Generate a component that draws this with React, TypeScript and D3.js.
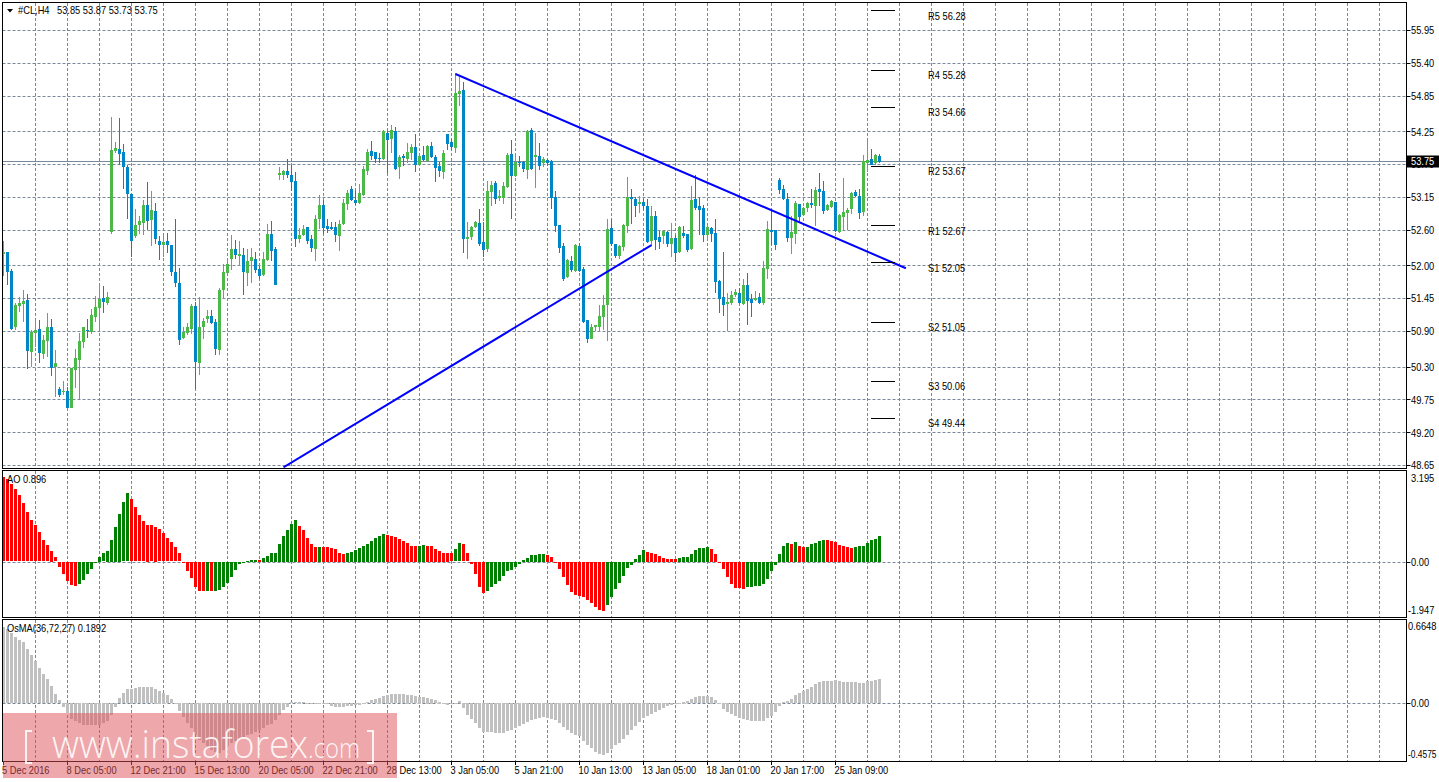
import React, { useEffect, useRef } from "react";
import * as d3 from "d3";

const WIDTH = 1439;
const HEIGHT = 782;
const FONT = "'Liberation Sans', sans-serif";

// H4 candles
const opens = [
  52.20,52.23,51.92,50.97,51.33,51.36,51.43,50.56,50.87,50.94,
  50.52,50.74,50.98,50.30,49.93,49.88,49.90,49.62,50.25,50.42,
  50.72,50.93,50.89,51.14,51.29,51.46,51.38,52.57,53.93,53.96,
  53.91,53.66,53.21,52.50,52.69,52.72,53.02,52.77,52.92,52.42,
  52.35,52.42,52.35,51.90,51.71,50.79,50.87,50.94,51.33,50.37,
  50.97,51.11,51.16,51.06,50.59,51.60,51.88,52.12,52.28,52.17,
  52.18,51.88,52.08,52.12,51.95,51.85,52.10,52.54,52.28,53.53,
  53.53,53.59,53.53,53.43,52.45,52.52,52.65,52.45,52.28,52.79,
  53.02,52.67,52.65,52.65,52.50,52.70,53.04,53.29,53.11,53.06,
  53.19,53.59,53.93,53.91,53.81,53.79,54.23,54.13,54.26,53.66,
  53.84,53.79,53.89,53.99,53.69,53.86,53.76,54.01,53.83,53.68,
  53.58,54.21,54.08,53.98,54.88,54.95,52.45,52.48,52.65,52.72,
  52.40,52.28,53.24,53.39,53.14,53.14,53.32,53.88,53.51,53.74,
  53.74,53.61,54.28,53.83,53.84,53.73,53.78,53.76,53.16,52.69,
  52.33,51.81,52.08,51.92,52.33,51.95,51.09,50.77,50.98,50.98,
  51.14,51.34,52.64,52.37,52.17,52.32,52.67,53.16,53.12,53.04,
  53.07,53.01,52.42,52.84,52.48,52.50,52.57,52.37,52.47,52.23,
  52.55,52.54,52.28,53.12,53.01,52.97,52.52,52.64,52.55,51.75,
  51.48,51.36,51.38,51.51,51.55,51.36,51.68,51.44,51.43,51.48,
  51.38,51.95,52.60,52.60,53.44,53.29,53.12,52.47,52.54,53.04,
  52.85,52.97,53.06,53.01,53.29,53.26,52.94,52.99,53.07,52.57,
  52.82,52.89,52.95,53.24,53.17,52.90,53.73,53.79,53.73,53.85,
];
const highs = [
  52.42,52.23,51.95,51.38,51.48,51.60,51.53,50.93,51.09,51.09,
  50.84,51.21,51.11,50.59,49.97,50.07,49.97,50.29,50.61,50.87,
  50.98,51.11,51.28,51.50,51.68,51.66,51.56,54.50,54.08,54.48,
  54.05,53.69,53.21,52.95,52.84,53.11,53.41,53.26,53.06,52.50,
  52.50,52.55,52.35,52.79,51.97,50.98,51.04,51.36,51.39,51.48,
  51.13,51.26,51.26,51.11,51.63,52.03,52.10,52.52,52.44,52.42,
  52.30,52.28,52.30,52.23,52.00,52.23,52.70,52.75,52.32,53.66,
  53.61,53.79,53.69,53.58,52.64,52.69,52.65,52.52,52.85,53.19,
  53.11,52.79,52.74,52.74,52.77,53.12,53.27,53.34,53.26,53.37,
  53.68,53.96,54.10,53.91,53.89,54.28,54.26,54.37,54.33,53.86,
  53.88,54.06,54.05,54.21,53.86,54.01,54.03,54.08,53.86,53.74,
  53.95,54.21,54.13,55.24,55.17,55.09,52.74,52.67,52.75,52.95,
  52.74,53.43,53.43,53.43,53.27,53.41,53.89,54.11,53.89,53.84,
  53.76,54.28,54.31,54.23,54.06,53.83,53.79,53.78,53.26,52.69,
  52.38,52.12,52.17,52.37,52.38,51.98,51.09,51.03,51.01,51.34,
  51.51,52.79,52.79,52.37,52.35,52.70,53.49,53.29,53.16,53.17,
  53.12,53.12,53.01,52.92,52.59,52.60,52.59,52.72,52.52,52.67,
  52.67,52.54,53.34,53.53,53.16,53.02,52.67,52.65,52.79,51.76,
  52.23,51.55,51.58,51.61,51.63,51.78,51.88,51.53,51.58,51.55,
  52.08,52.75,52.95,52.60,53.48,53.36,53.22,52.84,53.09,53.04,
  52.99,53.07,53.29,53.32,53.56,53.43,53.04,53.11,53.07,52.87,
  53.48,52.97,53.24,53.27,53.29,53.86,54.11,53.96,53.88,53.87,
];
const lows = [
  51.83,51.68,50.93,50.93,51.23,51.06,50.27,50.30,50.64,50.37,
  50.44,50.47,50.15,49.80,49.80,49.83,49.62,49.62,49.95,49.77,
  50.62,50.79,50.86,51.06,50.94,51.21,51.34,52.54,53.89,53.69,
  53.29,52.79,52.15,52.47,52.54,52.52,52.60,52.33,52.37,52.10,
  52.15,52.22,51.83,51.65,50.67,50.77,50.84,50.86,49.93,50.17,
  50.77,51.04,51.03,50.50,50.50,51.44,51.86,51.93,52.12,52.00,
  51.51,51.66,51.71,51.88,51.78,51.83,52.08,52.08,51.68,53.44,
  53.44,53.48,53.26,52.32,52.38,52.50,52.37,52.23,52.08,52.62,
  52.54,52.55,52.60,52.40,52.25,52.69,52.94,53.09,53.02,53.04,
  53.17,53.53,53.78,53.73,53.73,53.78,53.56,53.89,53.61,53.46,
  53.68,53.73,53.78,53.58,53.68,53.76,53.74,53.81,53.41,53.49,
  53.46,53.95,53.95,53.89,54.68,52.22,52.12,52.43,52.64,52.33,
  52.15,52.23,53.01,53.04,53.09,53.04,53.31,52.79,53.49,53.66,
  53.58,53.46,53.61,53.31,53.61,53.66,53.68,52.95,52.57,52.22,
  51.75,51.80,51.90,51.90,51.90,51.04,50.71,50.77,50.91,50.89,
  50.93,50.74,52.33,52.13,52.12,52.25,52.55,52.70,52.82,52.89,
  52.94,52.38,52.33,52.27,52.28,52.37,52.32,52.15,52.07,52.22,
  52.47,52.23,52.27,52.94,52.52,52.40,52.43,52.40,51.55,51.21,
  51.16,50.91,51.34,51.48,51.36,51.34,51.01,51.14,51.41,51.36,
  51.34,51.78,52.35,52.27,53.21,53.11,52.40,52.20,52.37,52.72,
  52.84,52.90,52.97,52.67,53.01,52.87,52.92,52.97,52.57,52.55,
  52.59,52.60,52.87,53.16,52.79,52.84,53.58,53.69,53.69,53.73,
];
const closes = [
  52.23,51.90,50.94,51.34,51.38,51.41,50.57,50.89,50.93,50.54,
  50.76,50.98,50.29,50.37,49.83,49.90,49.62,50.29,50.45,50.74,
  50.97,50.91,51.18,51.31,51.44,51.39,51.48,53.95,53.98,53.88,
  53.66,53.21,52.42,52.69,52.75,53.02,52.75,52.94,52.45,52.35,
  52.40,52.35,51.90,51.71,50.76,50.89,50.97,51.33,50.39,50.98,
  51.08,51.16,51.04,50.61,51.60,51.90,52.03,52.28,52.18,52.20,
  51.90,52.08,52.15,51.93,51.83,52.12,52.54,52.25,51.68,53.56,
  53.59,53.53,53.41,52.45,52.52,52.62,52.42,52.30,52.79,53.02,
  52.64,52.62,52.62,52.52,52.70,53.06,53.22,53.11,53.06,53.22,
  53.63,53.91,53.84,53.79,53.79,54.26,54.11,54.28,53.63,53.83,
  53.81,53.91,53.99,53.69,53.84,53.78,54.01,53.83,53.64,53.59,
  53.89,54.05,53.99,54.90,54.94,52.45,52.48,52.65,52.74,52.37,
  52.27,53.26,53.36,53.12,53.17,53.34,53.86,53.51,53.74,53.73,
  53.63,54.26,53.63,53.86,53.68,53.79,53.73,53.14,52.67,52.30,
  51.78,52.10,51.93,52.35,51.92,51.06,50.77,50.98,51.01,51.16,
  51.34,52.62,52.37,52.17,52.33,52.69,53.16,53.12,53.01,53.07,
  53.01,52.40,52.84,52.43,52.40,52.59,52.37,52.47,52.22,52.65,
  52.50,52.27,53.11,52.97,52.94,52.52,52.65,52.54,51.73,51.44,
  51.34,51.39,51.51,51.56,51.38,51.68,51.41,51.38,51.46,51.38,
  51.97,52.62,52.57,52.35,53.27,53.12,52.47,52.57,53.06,52.82,
  52.97,53.06,53.02,53.27,53.24,52.92,53.02,53.09,52.59,52.85,
  52.90,52.94,53.22,53.17,52.89,53.76,53.78,53.69,53.86,53.75,
];

const aoValues = [
  2.92,2.85,2.68,2.51,2.30,2.02,1.71,1.43,1.26,1.02,
  0.74,0.57,0.39,0.15,-0.17,-0.40,-0.65,-0.79,-0.82,-0.75,
  -0.61,-0.40,-0.23,-0.03,0.18,0.29,0.39,0.77,1.22,1.67,
  2.06,2.37,2.16,1.88,1.61,1.40,1.29,1.26,1.22,1.12,
  0.98,0.81,0.67,0.50,0.29,-0.03,-0.30,-0.54,-0.85,-0.99,
  -0.99,-0.99,-0.99,-0.99,-0.96,-0.85,-0.72,-0.51,-0.27,-0.07,
  -0.03,0.03,0.07,0.07,0.07,0.14,0.21,0.31,0.31,0.62,
  0.90,1.11,1.32,1.46,1.25,1.11,0.83,0.62,0.52,0.52,
  0.52,0.52,0.49,0.45,0.31,0.28,0.31,0.35,0.42,0.49,
  0.55,0.62,0.73,0.83,0.90,0.97,0.94,0.90,0.87,0.80,
  0.73,0.66,0.55,0.55,0.55,0.59,0.55,0.55,0.45,0.38,
  0.31,0.31,0.29,0.43,0.64,0.60,0.29,-0.07,-0.40,-0.85,
  -1.06,-0.99,-0.85,-0.75,-0.65,-0.47,-0.30,-0.27,-0.17,-0.07,
  0.07,0.14,0.24,0.24,0.28,0.28,0.24,0.17,-0.03,-0.23,
  -0.51,-0.79,-1.03,-1.13,-1.17,-1.20,-1.30,-1.41,-1.55,-1.65,
  -1.69,-1.48,-1.20,-0.92,-0.72,-0.47,-0.20,-0.09,0.10,0.24,
  0.42,0.35,0.31,0.28,0.21,0.14,0.10,0.10,0.10,0.14,
  0.17,0.17,0.28,0.42,0.49,0.49,0.52,0.45,0.28,-0.03,
  -0.23,-0.51,-0.75,-0.89,-0.89,-0.92,-0.85,-0.85,-0.82,-0.82,
  -0.75,-0.58,-0.30,-0.09,0.28,0.55,0.66,0.62,0.69,0.55,
  0.52,0.52,0.62,0.66,0.73,0.76,0.76,0.73,0.69,0.59,
  0.55,0.52,0.49,0.52,0.55,0.55,0.66,0.76,0.80,0.896,
];
// r = falling bar, g = rising bar
const aoColors =
  "rrrrrrrrrrrrrrrrrrr" + "ggggggggggggg" + "rrrrrrrrrrrrrrrrrrr" + "g" + "r" + "ggggggggggg" + "r" +
  "ggggggggg" + "rrrrr" + "g" + "rrrrrr" + "gggggggggg" + "rrrrrrrr" + "gg" + "rrrrrr" +
  "r" + "gg" + "rrrrrr" + "ggggggggggggggg" + "rrrrrrrrrrrrrrr" + "gggggggggg" + "rrrrrrrr" + "gggggggg" +
  "rrrrrrrrr" + "ggggggggggg" + "r" + "g" + "rr" + "ggggg" + "rrrrrrr" + "ggggggg";

const osmaValues = [
  0.601,0.585,0.554,0.522,0.499,0.483,0.428,0.381,0.333,0.278,
  0.231,0.192,0.137,0.074,0.026,-0.034,-0.079,-0.123,-0.144,-0.158,
  -0.171,-0.176,-0.176,-0.176,-0.171,-0.160,-0.144,-0.092,-0.032,0.042,
  0.081,0.110,0.116,0.121,0.126,0.129,0.129,0.129,0.116,0.100,
  0.084,0.063,0.034,0.005,-0.060,-0.113,-0.158,-0.197,-0.249,-0.289,
  -0.315,-0.341,-0.368,-0.386,-0.394,-0.373,-0.341,-0.315,-0.302,-0.281,
  -0.268,-0.255,-0.242,-0.228,-0.215,-0.197,-0.176,-0.163,-0.131,-0.092,
  -0.055,-0.032,0.008,0.011,0.013,0.011,0.003,-0.005,-0.003,-0.003,
  -0.005,-0.011,-0.021,-0.032,-0.034,-0.032,-0.026,-0.024,-0.018,-0.013,
  0,0.011,0.024,0.034,0.045,0.058,0.068,0.074,0.074,0.074,
  0.071,0.068,0.066,0.058,0.053,0.047,0.045,0.037,0.024,0.013,
  -0.008,-0.016,-0.008,-0.003,0.016,-0.042,-0.092,-0.123,-0.155,-0.194,
  -0.226,-0.226,-0.226,-0.234,-0.234,-0.234,-0.218,-0.210,-0.197,-0.179,
  -0.163,-0.147,-0.131,-0.123,-0.116,-0.108,-0.116,-0.123,-0.131,-0.155,
  -0.186,-0.210,-0.236,-0.249,-0.257,-0.302,-0.333,-0.357,-0.389,-0.399,
  -0.407,-0.391,-0.360,-0.328,-0.312,-0.284,-0.249,-0.210,-0.179,-0.147,
  -0.116,-0.100,-0.084,-0.068,-0.053,-0.037,-0.021,-0.016,-0.008,0.005,
  0.013,0.016,0.032,0.047,0.055,0.058,0.058,0.053,0.026,-0.008,
  -0.047,-0.071,-0.084,-0.100,-0.116,-0.123,-0.131,-0.139,-0.144,-0.144,
  -0.139,-0.116,-0.100,-0.068,-0.026,0.008,0.018,0.032,0.063,0.079,
  0.100,0.116,0.126,0.152,0.165,0.173,0.179,0.179,0.184,0.179,
  0.168,0.168,0.168,0.168,0.158,0.163,0.173,0.176,0.184,0.1892,
];

const priceTicks = [55.95, 55.4, 54.85, 54.25, 53.7, 53.15, 52.6, 52.0, 51.45, 50.9, 50.3, 49.75, 49.2, 48.65];
const lastPrice = 53.75;

const pivotNames = ["R5", "R4", "R3", "R2", "R1", "S1", "S2", "S3", "S4"];
const pivotLevels = [56.28, 55.28, 54.66, 53.67, 52.67, 52.05, 51.05, 50.06, 49.44];

const timeLabels = [
  "5 Dec 2016", "8 Dec 05:00", "12 Dec 21:00", "15 Dec 13:00", "20 Dec 05:00", "22 Dec 21:00", "28 Dec 13:00",
  "3 Jan 05:00", "5 Jan 21:00", "10 Jan 13:00", "13 Jan 05:00", "18 Jan 01:00", "20 Jan 17:00", "25 Jan 09:00",
];

// trend lines as [bar index, price]
const fallingTrend: [number, number][] = [[113, 55.22], [225.6, 51.96]];
const risingTrend: [number, number][] = [[70, 48.62], [162, 52.35]];

const App: React.FC = () => {
  const svgRef = useRef<SVGSVGElement>(null);

  useEffect(() => {
    const svg = d3.select(svgRef.current);
    svg.selectAll("*").remove();

    const left = 2.5;
    const right = 1406.5;
    const x = d3.scaleLinear().domain([0, 219]).range([3.5, 879.5]);
    const yPrice = d3.scaleLinear().domain([55.95, 48.65]).range([30.5, 465.5]);
    const yAo = d3.scaleLinear().domain([3.195, -1.947]).range([469.5, 618]);
    const yOsma = d3.scaleLinear().domain([0.6648, -0.4575]).range([619, 761.5]);
    const px = (v: number) => Math.round(v - 0.5) + 0.5;

    svg.append("rect").attr("width", WIDTH).attr("height", HEIGHT).attr("fill", "#fff");

    const defs = svg.append("defs");
    const clip = (id: string, y0: number, y1: number) =>
      defs.append("clipPath").attr("id", id).append("rect")
        .attr("x", 3).attr("y", y0).attr("width", right - 3).attr("height", y1 - y0);
    clip("clip-price", 3, 468);
    clip("clip-ao", 471, 617);
    clip("clip-osma", 620, 761);

    const GRID = "#778899";
    const vLines = d3.range(8, 345, 8);

    // Grid
    const grid = svg.append("g").attr("stroke", GRID).attr("stroke-dasharray", "3,2").attr("fill", "none");
    const vGrid = (y0: number, y1: number) =>
      grid.append("g").selectAll("line").data(vLines).join("line")
        .attr("x1", (d) => x(d)).attr("x2", (d) => x(d)).attr("y1", y0).attr("y2", y1);
    vGrid(3, 468);
    vGrid(471, 617);
    vGrid(620, 761);
    grid.append("g").selectAll("line").data(priceTicks).join("line")
      .attr("x1", left).attr("x2", right)
      .attr("y1", (d) => px(yPrice(d))).attr("y2", (d) => px(yPrice(d)));
    grid.append("line").attr("x1", left).attr("x2", right).attr("y1", 562.5).attr("y2", 562.5);
    grid.append("line").attr("x1", left).attr("x2", right).attr("y1", 703.5).attr("y2", 703.5);

    // Current price line
    svg.append("line").attr("x1", left).attr("x2", right)
      .attr("y1", px(yPrice(lastPrice))).attr("y2", px(yPrice(lastPrice)))
      .attr("stroke", GRID).attr("stroke-width", 1);

    // Candles
    const candles = svg.append("g").attr("clip-path", "url(#clip-price)");
    const bars = d3.range(opens.length);
    const up = (i: number) => closes[i] >= opens[i];
    const candleColor = (i: number) => (up(i) ? "#4cb848" : "#0085c6");
    candles.append("g").selectAll("rect").data(bars).join("rect")
      .attr("x", (i) => x(i) - 0.5).attr("width", 1)
      .attr("y", (i) => Math.round(yPrice(highs[i])))
      .attr("height", (i) => Math.max(1, Math.round(yPrice(lows[i])) - Math.round(yPrice(highs[i]))))
      .attr("fill", candleColor);
    candles.append("g").selectAll("rect").data(bars).join("rect")
      .attr("x", (i) => x(i) - 1.5).attr("width", 3)
      .attr("y", (i) => Math.round(yPrice(Math.max(opens[i], closes[i]))))
      .attr("height", (i) =>
        Math.max(1, Math.round(yPrice(Math.min(opens[i], closes[i]))) - Math.round(yPrice(Math.max(opens[i], closes[i])))))
      .attr("fill", candleColor);

    // Pivot levels
    svg.append("g").selectAll("line").data(pivotLevels).join("line")
      .attr("x1", 871).attr("x2", 895)
      .attr("y1", (d) => px(yPrice(d))).attr("y2", (d) => px(yPrice(d)))
      .attr("stroke", "#000");

    // Trend lines
    const trend = d3.line<[number, number]>().x((d) => x(d[0])).y((d) => yPrice(d[1]));
    candles.selectAll("path.trend").data([fallingTrend, risingTrend]).join("path")
      .attr("class", "trend").attr("d", (d) => trend(d))
      .attr("fill", "none").attr("stroke", "#0000ff").attr("stroke-width", 2);

    // AO
    svg.append("g").attr("clip-path", "url(#clip-ao)").selectAll("rect").data(aoValues).join("rect")
      .attr("x", (_, i) => x(i) - 1.5).attr("width", 3)
      .attr("y", (d) => Math.round(Math.min(yAo(d), yAo(0))))
      .attr("height", (d) => Math.max(1, Math.round(Math.abs(yAo(d) - yAo(0)))))
      .attr("fill", (_, i) => (aoColors[i] === "g" ? "#008000" : "#ff0000"));

    // OsMA
    svg.append("g").attr("clip-path", "url(#clip-osma)").selectAll("rect").data(osmaValues).join("rect")
      .attr("x", (_, i) => x(i) - 1.5).attr("width", 3)
      .attr("y", (d) => Math.round(Math.min(yOsma(d), yOsma(0))))
      .attr("height", (d) => Math.max(1, Math.round(Math.abs(yOsma(d) - yOsma(0)))))
      .attr("fill", "#c0c0c0");

    // Frames
    const frames = svg.append("g").attr("stroke", "#000").attr("fill", "none");
    [[2.5, 468.5], [470.5, 617.5], [619.5, 761.5]].forEach(([y0, y1]) => {
      frames.append("rect").attr("x", left).attr("y", y0).attr("width", right - left).attr("height", y1 - y0);
    });

    // Axis ticks and labels
    const axis = svg.append("g").attr("font-family", FONT).attr("font-size", 10.5).attr("fill", "#000");
    const rightTick = (y: number, label: string, tick = true, tx = 1411) => {
      if (tick) axis.append("line").attr("x1", right).attr("x2", right + 4).attr("y1", px(y)).attr("y2", px(y)).attr("stroke", "#000");
      axis.append("text").attr("x", tx).attr("y", y).attr("dy", "0.36em").text(label);
    };
    priceTicks.forEach((d) => rightTick(yPrice(d), d.toFixed(2)));
    rightTick(478, "3.195", false);
    rightTick(562.5, "0.00");
    rightTick(610, "-1.947", false, 1408);
    rightTick(626, "0.6648", false, 1408);
    rightTick(703.5, "0.00");
    rightTick(754, "-0.4575", false, 1408);

    axis.append("rect").attr("x", right).attr("y", 155.5).attr("width", WIDTH - right).attr("height", 12).attr("fill", "#000");
    axis.append("text").attr("x", 1411).attr("y", yPrice(lastPrice)).attr("dy", "0.36em").attr("fill", "#fff").text(lastPrice.toFixed(2));

    timeLabels.forEach((label, k) => {
      const tx = x(k * 16);
      axis.append("line").attr("x1", tx).attr("x2", tx).attr("y1", 761.5).attr("y2", 765).attr("stroke", "#000");
      axis.append("text").attr("x", k === 0 ? 2 : tx - 1).attr("y", 774).text(label);
    });

    // Pivot labels
    axis.append("g").selectAll("text").data(pivotLevels).join("text")
      .attr("x", 928).attr("y", (d) => yPrice(d) + 5).attr("dy", "0.36em")
      .text((d, i) => `${pivotNames[i]} ${d.toFixed(2)}`);

    // Panel captions
    svg.append("path").attr("d", "M7,9 L13,9 L10,12.5 Z").attr("fill", "#000");
    axis.append("text").attr("x", 18).attr("y", 14).text("#CL,H4");
    axis.append("text").attr("x", 57).attr("y", 14).text("53.85 53.87 53.73 53.75");
    axis.append("text").attr("x", 7).attr("y", 483).text("AO 0.896");
    axis.append("text").attr("x", 7).attr("y", 632).text("OsMA(36,72,27) 0.1892");

    // narrow the axis font to the width the terminal's font takes
    axis.selectAll<SVGTextElement, unknown>("text").each(function () {
      const squeeze = this.textContent === "-0.4575" ? 0.8 : 0.885;
      this.setAttribute("textLength", String(this.getComputedTextLength() * squeeze));
      this.setAttribute("lengthAdjust", "spacingAndGlyphs");
    });

    // Watermark
    const mark = svg.append("g");
    mark.append("rect").attr("x", 3).attr("y", 713).attr("width", 394).attr("height", 65).attr("fill", "rgb(222,80,85)").attr("opacity", 0.5);
    const markText = mark.append("g").attr("fill", "#fff").attr("fill-opacity", 0.9).attr("font-family", "'Open Sans', sans-serif").attr("font-weight", 300);
    markText.append("text").attr("x", 52).attr("y", 758).attr("font-size", 39).attr("textLength", 256).attr("lengthAdjust", "spacingAndGlyphs").text("www.instaforex");
    markText.append("text").attr("x", 308).attr("y", 758).attr("font-size", 27).attr("textLength", 52).attr("lengthAdjust", "spacingAndGlyphs").text(".com");
    const bracket = mark.append("g").attr("fill", "none").attr("stroke", "#fff").attr("stroke-opacity", 0.85).attr("stroke-width", 2);
    bracket.append("path").attr("d", "M32,731 L26,731 L26,763 L32,763");
    bracket.append("path").attr("d", "M367,731 L373,731 L373,763 L367,763");
  }, []);

  return (
    <svg
      ref={svgRef}
      width={WIDTH}
      height={HEIGHT}
      style={{ position: "absolute", left: 0, top: 0, display: "block" }}
    />
  );
};

export default App;
